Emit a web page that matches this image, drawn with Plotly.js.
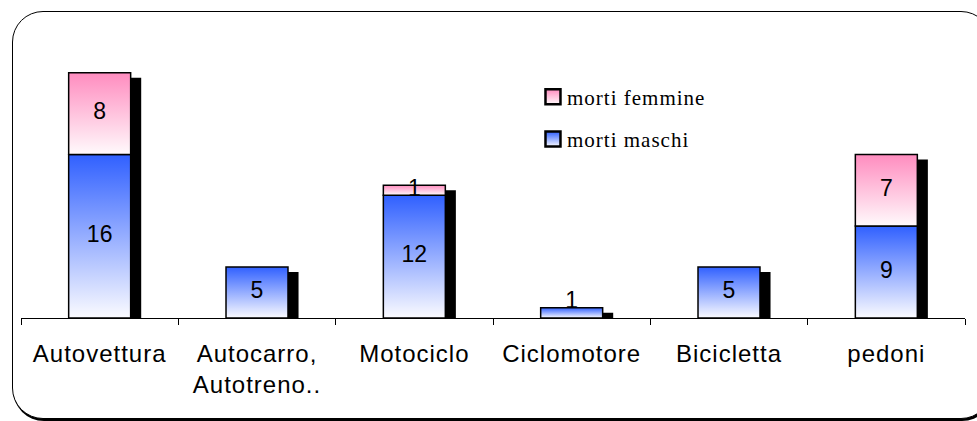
<!DOCTYPE html>
<html>
<head>
<meta charset="utf-8">
<script src="https://cdn.plot.ly/plotly-3.0.1.min.js"></script>
<style>
  html, body { margin: 0; padding: 0; background: #fff; overflow: hidden; }
  #frame {
    position: absolute; left: 12px; top: 11px; width: 978px; height: 406px;
    border: 1.5px solid #000; border-radius: 31px; box-shadow: 1px 2px 0 #000;
    background: #fff; z-index: 0;
  }
  #chart { position: absolute; left: 0; top: 0; width: 977px; height: 421px; z-index: 1; }
  .legendtext { letter-spacing: 1px; }
  .xtick text { letter-spacing: 1px; }
</style>
</head>
<body>
<div id="frame"></div>
<div id="chart"></div>
<script>
const categories = ['Autovettura', 'Autocarro,<br>Autotreno..', 'Motociclo', 'Ciclomotore', 'Bicicletta', 'pedoni'];
const maschi = [16, 5, 12, 1, 5, 9];
const femmine = [8, null, 1, null, null, 7];
const seriesNames = ['morti maschi', 'morti femmine'];

const totals = maschi.map((m, i) => m + (femmine[i] || 0));
const shadowDrop = 0.49;
const barW = 0.394;
const minLabelY = 1.5;

const shadowTrace = {
  type: 'bar', x: categories, y: totals.map(t => t - shadowDrop), base: 0,
  width: barW, offset: -barW / 2 + 0.067,
  marker: { color: '#000', line: { width: 0 } },
  showlegend: false, hoverinfo: 'skip'
};
const maleTrace = {
  type: 'bar', name: seriesNames[0], x: categories, y: maschi, base: 0,
  width: barW, offset: -barW / 2, legendgroup: 'm', legendrank: 2,
  marker: { color: '#7f9cff', line: { color: '#000', width: 1.5 } },
  hoverinfo: 'skip'
};
const femaleTrace = {
  type: 'bar', name: seriesNames[1], x: categories, y: femmine, base: maschi,
  width: barW, offset: -barW / 2, legendgroup: 'f', legendrank: 1,
  marker: { color: '#ffc0d8', line: { color: '#000', width: 1.5 } },
  hoverinfo: 'skip'
};
const numFont = { family: 'Arial, Liberation Sans', size: 23, color: '#000' };
const maleText = {
  type: 'scatter', mode: 'text', x: categories, y: maschi.map(v => Math.max(v / 2, minLabelY)),
  text: maschi.map(String), textposition: 'middle center', textfont: numFont,
  showlegend: false, hoverinfo: 'skip', cliponaxis: false
};
const femaleText = {
  type: 'scatter', mode: 'text', x: categories,
  y: femmine.map((v, i) => v == null ? null : maschi[i] + v / 2),
  text: femmine.map(v => v == null ? '' : String(v)), textposition: 'middle center', textfont: numFont,
  showlegend: false, hoverinfo: 'skip', cliponaxis: false
};

const layout = {
  width: 977, height: 421,
  margin: { l: 21, r: 12, t: 20, b: 103 },
  paper_bgcolor: 'rgba(0,0,0,0)', plot_bgcolor: 'rgba(0,0,0,0)',
  barmode: 'overlay',
  showlegend: true,
  legend: {
    x: 0.536, y: 0.81, xanchor: 'left', yanchor: 'top',
    bgcolor: 'rgba(0,0,0,0)', borderwidth: 0,
    font: { family: 'Liberation Serif, Times New Roman, serif', size: 21, color: '#000' },
    traceorder: 'grouped', tracegroupgap: 12
  },
  xaxis: {
    type: 'category', showline: true, linecolor: '#000', linewidth: 1,
    ticks: 'outside', tickson: 'boundaries', ticklen: 6, tickcolor: '#000', tickwidth: 1,
    ticklabelstandoff: 14,
    showgrid: false, zeroline: false,
    tickfont: { family: 'Arial, Liberation Sans', size: 24, color: '#000' }
  },
  yaxis: { range: [0, 29.16], visible: false, showgrid: false, zeroline: false },
  font: { family: 'Arial, Liberation Sans' }
};

Plotly.newPlot('chart', [shadowTrace, maleTrace, femaleTrace, maleText, femaleText], layout,
  { staticPlot: true, displayModeBar: false }).then(gd => {
  const svgNS = 'http://www.w3.org/2000/svg';
  const svg = gd.querySelector('.main-svg');
  let defs = svg.querySelector('defs');
  if (!defs) { defs = document.createElementNS(svgNS, 'defs'); svg.insertBefore(defs, svg.firstChild); }
  function grad(id, top, bottom) {
    const g = document.createElementNS(svgNS, 'linearGradient');
    g.setAttribute('id', id);
    g.setAttribute('x1', '0'); g.setAttribute('y1', '0');
    g.setAttribute('x2', '0'); g.setAttribute('y2', '1');
    [[0, top], [1, bottom]].forEach(([o, c]) => {
      const s = document.createElementNS(svgNS, 'stop');
      s.setAttribute('offset', o); s.setAttribute('stop-color', c);
      g.appendChild(s);
    });
    defs.appendChild(g);
  }
  grad('gBlue', '#3060ff', '#fbfbff');
  grad('gPink', '#ff8cbf', '#fffafc');
  const fillFor = { 'morti maschi': 'url(#gBlue)', 'morti femmine': 'url(#gPink)' };
  gd.querySelectorAll('.barlayer .trace').forEach(tr => {
    const d = tr.__data__;
    const t = d && d[0] && d[0].trace;
    if (t && fillFor[t.name]) tr.querySelectorAll('path').forEach(p => { p.style.fill = fillFor[t.name]; });
  });
  gd.querySelectorAll('.legend .traces').forEach(tr => {
    const d = tr.__data__;
    const t = d && d[0] && d[0].trace;
    if (t && fillFor[t.name]) tr.querySelectorAll('.legendpoints path').forEach(p => {
      p.style.fill = fillFor[t.name];
      p.style.strokeWidth = '2px';
      const tf = p.getAttribute('transform') || '';
      p.setAttribute('transform', tf + ' translate(6,0) scale(1.25)');
    });
  });
});
</script>
</body>
</html>
